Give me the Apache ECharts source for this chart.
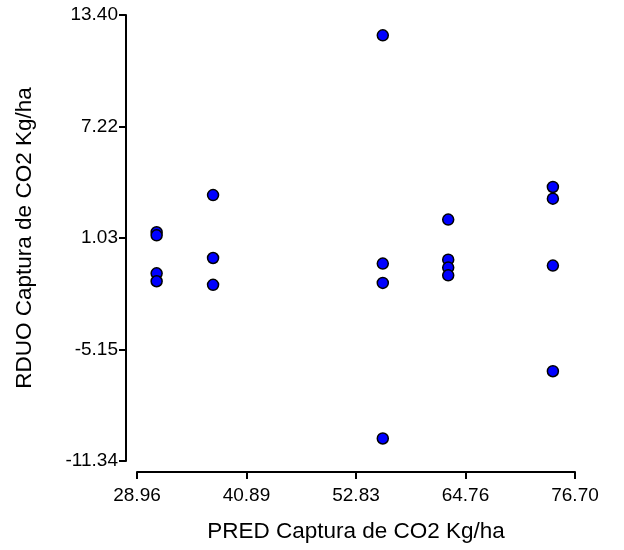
<!DOCTYPE html>
<html>
<head>
<meta charset="utf-8">
<script src="https://cdn.jsdelivr.net/npm/echarts@6/dist/echarts.min.js"></script>
<style>html,body{margin:0;padding:0;background:#fff}#c{width:624px;height:550px}</style>
</head>
<body>
<div id="c"></div>
<script>
const xValues = [31.1, 31.1, 31.1, 31.1, 37.25, 37.25, 37.25, 55.75, 55.75, 55.75, 55.75, 62.88, 62.88, 62.88, 62.88, 74.29, 74.29, 74.29, 74.29];
const yValues = [1.35, 1.18, -0.93, -1.37, 3.41, -0.08, -1.57, 12.27, -0.39, -1.46, -10.09, 2.05, -0.17, -0.61, -1.04, 3.86, 3.21, -0.50, -6.36];
const xTicks = [28.96, 40.89, 52.83, 64.76, 76.70];
const yTicks = [-11.34, -5.15, 1.03, 7.22, 13.40];
const xTitle = 'PRED Captura de CO2 Kg/ha';
const yTitle = 'RDUO Captura de CO2 Kg/ha';

const points = xValues.map((x, i) => [x, yValues[i]]);
const font = 'Liberation Sans, Arial, sans-serif';
const chart = echarts.init(document.getElementById('c'));
chart.setOption({
  animation: false,
  grid: {left: 137, right: 49, top: 15, bottom: 89, containLabel: false},
  xAxis: {
    type: 'value', min: xTicks[0], max: xTicks[xTicks.length - 1],
    offset: 11,
    name: xTitle, nameLocation: 'middle', nameGap: 48,
    nameTextStyle: {fontFamily: font, fontSize: 22.5, color: '#000'},
    axisLine: {show: true, onZero: false, lineStyle: {color: '#000', width: 2}},
    axisTick: {show: true, length: 7, lineStyle: {color: '#000', width: 2}, customValues: xTicks},
    axisLabel: {fontFamily: font, fontSize: 19, color: '#000', margin: 14, customValues: xTicks,
      formatter: v => v.toFixed(2)},
    splitLine: {show: false}
  },
  yAxis: {
    type: 'value', min: yTicks[0], max: yTicks[yTicks.length - 1],
    offset: 11,
    name: yTitle, nameLocation: 'middle', nameGap: 90,
    nameTextStyle: {fontFamily: font, fontSize: 22.5, color: '#000'},
    axisLine: {show: true, onZero: false, lineStyle: {color: '#000', width: 2}},
    axisTick: {show: true, length: 7, lineStyle: {color: '#000', width: 2}, customValues: yTicks},
    axisLabel: {fontFamily: font, fontSize: 19, color: '#000', margin: 8, customValues: yTicks,
      formatter: v => v.toFixed(2)},
    splitLine: {show: false}
  },
  series: [{
    type: 'scatter',
    data: points,
    symbolSize: 11,
    itemStyle: {color: '#0000FF', borderColor: '#000', borderWidth: 1.5, opacity: 1}
  }]
});
</script>
</body>
</html>
